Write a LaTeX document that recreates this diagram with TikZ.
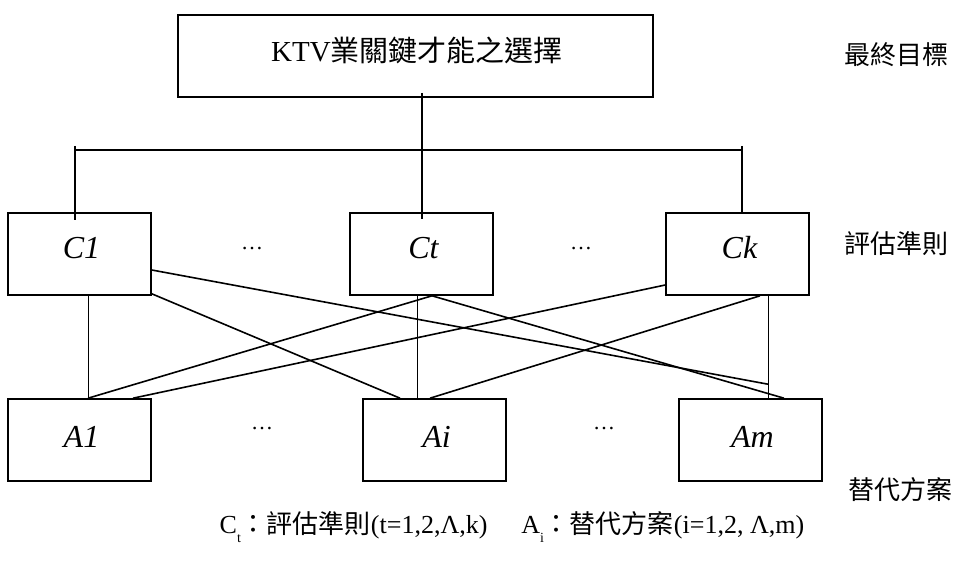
\documentclass[tikz,border=0pt]{standalone}
\usepackage{fontspec}
\setmainfont{Liberation Serif}
\newfontfamily\cjk{Noto Sans CJK TC}
\usetikzlibrary{calc}
\begin{document}
\begin{tikzpicture}[x=1pt,y=-1pt,
  box/.style={draw, line width=1.6pt, inner sep=0pt, minimum width=143pt, minimum height=82pt},
  lbl/.style={inner sep=0pt, font=\fontsize{32}{36}\selectfont\itshape},
  conn/.style={line width=1.6pt},
  thinconn/.style={line width=1pt},
  side/.style={inner sep=0pt, font=\fontsize{26}{30}\selectfont\cjk},
  dotsnode/.style={inner sep=0pt, anchor=base, font=\fontsize{22}{26}\selectfont}]
\useasboundingbox (0,0) rectangle (971,561);

% goal
\node[box, minimum width=475pt] (top) at (415.5,56) {};
\node[inner sep=0pt, font=\fontsize{29}{32}\selectfont] (toptext) at (417,50) {KTV{\cjk 業關鍵才能之選擇}};

% criteria
\node[box] (c1) at (79.5,254) {};
\node[box] (ct) at (421.5,254) {};
\node[box] (ck) at (737.5,254) {};
\node[lbl] (c1t) at ([xshift=2pt,yshift=6pt]c1.center) {C1};
\node[lbl] (ctt) at ([xshift=2pt,yshift=6pt]ct.center) {Ct};
\node[lbl] (ckt) at ([xshift=2pt,yshift=6pt]ck.center) {Ck};

% alternatives
\node[box] (a1) at (79.5,440) {};
\node[box] (ai) at (434.5,440) {};
\node[box] (am) at (750.5,440) {};
\node[lbl] (a1t) at ([xshift=2pt,yshift=3pt]a1.center) {A1};
\node[lbl] (ait) at ([xshift=2pt,yshift=3pt]ai.center) {Ai};
\node[lbl] (amt) at ([xshift=2pt,yshift=3pt]am.center) {Am};

% ellipses
\node[dotsnode] (d1) at (252,250) {…};
\node[dotsnode] (d2) at (581,250) {…};
\node[dotsnode] (d3) at (262,429) {…};
\node[dotsnode] (d4) at (604,429) {…};

% side labels
\node[side] (s1) at (896,55) {最終目標};
\node[side] (s2) at (896,244) {評估準則};
\node[side] (s3) at (900,490) {替代方案};

% legend
\node[inner sep=0pt, font=\fontsize{26}{30}\selectfont] (legend) at (512,527)
  {C\raisebox{-0.35em}{\fontsize{14}{14}\selectfont t}{\cjk ：評估準則}(t=1,2,Λ,k)\hspace{1.3em}A\raisebox{-0.35em}{\fontsize{14}{14}\selectfont i}{\cjk ：替代方案}(i=1,2, Λ,m)};

% tree connectors
\coordinate (barL) at (75,150);
\coordinate (barR) at (742,150);
\coordinate (tickL) at (75,146);
\coordinate (tickR) at (742,146);
\draw[conn] (barL) -- (barR);
\draw[conn] ([xshift=6.5pt,yshift=5pt]top.south) -- ([xshift=0.5pt,yshift=-7pt]ct.north);
\draw[conn] (tickL) -- ([xshift=-4.5pt,yshift=-8pt]c1.north);
\draw[conn] (tickR) -- ([xshift=4.5pt]ck.north);

% criteria to alternatives
\draw[thinconn] ([xshift=8.5pt]c1.south) -- ([xshift=8.5pt]a1.north);
\draw[conn] ([yshift=2pt]c1.south east) -- ([xshift=-34.5pt]ai.north);
\draw[conn] ([yshift=-16pt]c1.east) -- ([xshift=17.5pt,yshift=14pt]am.north);
\draw[conn] ([xshift=10.5pt]ct.south) -- ([xshift=8.5pt]a1.north);
\draw[thinconn] ([xshift=-4.5pt]ct.south) -- ([xshift=-17.5pt]ai.north);
\draw[conn] ([xshift=10.5pt]ct.south) -- ([xshift=33.5pt]am.north);
\draw[conn] ([xshift=22.5pt]ck.south) -- ([xshift=-4.5pt]ai.north);
\draw[thinconn] ([xshift=30.5pt]ck.south) -- ([xshift=17.5pt]am.north);
\draw[conn] ([xshift=53.5pt]a1.north) -- ([yshift=-31pt]ck.west);
\end{tikzpicture}
\end{document}
